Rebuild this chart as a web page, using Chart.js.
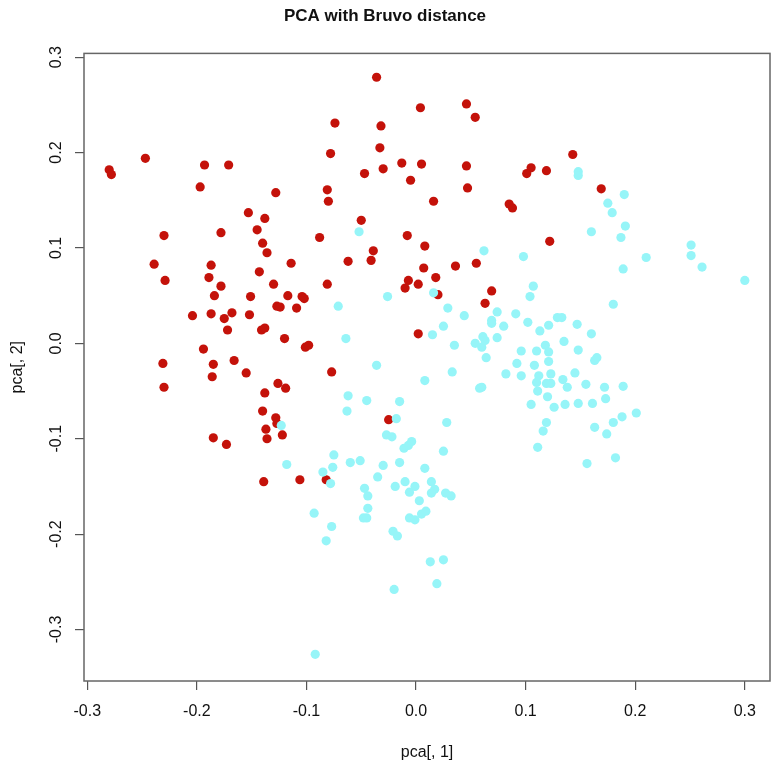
<!DOCTYPE html>
<html lang="en">

<head>
    <meta charset="UTF-8">
    <title>PCA with Bruvo distance</title>
    <script src="https://cdn.jsdelivr.net/npm/chart.js"></script>
    <style>
        body { margin: 0; background: #fff; }
    </style>
</head>

<body>
    <canvas id="pcaChart" width="784" height="770"></canvas>

    <script>
        // Population 1 (red) - pca[,1] and pca[,2]
        const redX = [-0.280, -0.278, -0.247, -0.193, -0.171, -0.197, -0.128, -0.153, -0.138, -0.145,
            -0.230, -0.178, -0.140, -0.136, -0.239, -0.187, -0.114, -0.143, -0.229, -0.189,
            -0.178, -0.130, -0.184, -0.151, -0.117, -0.104, -0.102, -0.127, -0.124, -0.109,
            -0.204, -0.187, -0.175, -0.168, -0.152, -0.172, -0.141, -0.138, -0.120, -0.101,
            -0.098, -0.194, -0.231, -0.185, -0.166, -0.186, -0.155, -0.230, -0.138, -0.126,
            -0.119, -0.140, -0.128, -0.127, -0.137, -0.136, -0.122, -0.185, -0.173, -0.139,
            -0.106, -0.036, 0.004, 0.046, 0.054, -0.074, -0.032, -0.033, -0.078, -0.047,
            -0.030, -0.013, 0.005, -0.005, 0.046, 0.047, 0.105, 0.101, -0.081, -0.080,
            0.016, 0.085, 0.088, -0.050, -0.088, -0.008, 0.008, -0.039, -0.062, -0.041,
            0.007, 0.036, 0.055, 0.018, -0.007, 0.002, -0.010, -0.081, 0.069, 0.063,
            0.020, 0.002, 0.143, 0.119, 0.169, 0.122, -0.077, -0.025, -0.082];
        const redY = [0.182, 0.177, 0.194, 0.187, 0.187, 0.164, 0.158, 0.137, 0.131, 0.119,
            0.113, 0.116, 0.105, 0.095, 0.083, 0.082, 0.084, 0.075, 0.066, 0.069,
            0.060, 0.062, 0.050, 0.049, 0.050, 0.049, 0.047, 0.039, 0.038, 0.037,
            0.029, 0.031, 0.026, 0.032, 0.030, 0.014, 0.014, 0.016, 0.005, -0.004,
            -0.002, -0.006, -0.021, -0.022, -0.018, -0.035, -0.031, -0.046, -0.052, -0.042,
            -0.047, -0.071, -0.078, -0.084, -0.090, -0.100, -0.096, -0.099, -0.106, -0.145,
            -0.143, 0.279, 0.247, 0.251, 0.237, 0.231, 0.228, 0.205, 0.199, 0.178,
            0.183, 0.189, 0.188, 0.171, 0.186, 0.163, 0.184, 0.178, 0.161, 0.149,
            0.149, 0.146, 0.142, 0.129, 0.111, 0.113, 0.102, 0.097, 0.086, 0.087,
            0.079, 0.081, 0.084, 0.069, 0.066, 0.062, 0.058, 0.062, 0.055, 0.042,
            0.051, 0.010, 0.198, 0.181, 0.162, 0.107, -0.030, -0.080, -0.143];

        // Population 2 (cyan)
        const cyanX = [-0.123, -0.118, -0.093, -0.052, -0.026, -0.071, -0.064, 0.062, 0.098, 0.107,
            0.104, 0.029, 0.044, 0.074, 0.091, 0.069, 0.069, 0.080, 0.025, 0.015,
            0.102, 0.035, 0.061, 0.054, 0.060, 0.063, 0.074, 0.016, 0.148, 0.148,
            0.190, 0.175, 0.179, 0.191, 0.187, 0.160, 0.251, 0.251, 0.261, 0.210,
            0.189, 0.300, 0.180, 0.129, 0.133, 0.121, 0.113, 0.147, 0.160, 0.135,
            0.118, 0.148, 0.110, 0.121, 0.165, 0.163, 0.121, 0.108, 0.145, 0.112,
            0.123, 0.134, 0.119, 0.123, 0.110, 0.138, 0.155, 0.172, 0.189, 0.111,
            0.120, 0.173, 0.126, 0.136, 0.148, 0.161, 0.201, 0.188, 0.180, 0.174,
            0.163, 0.119, 0.116, 0.111, 0.182, 0.156, 0.064, 0.096, 0.092, 0.033,
            0.082, 0.096, 0.058, 0.060, 0.105, 0.028, -0.018, -0.078, -0.076, -0.036,
            -0.062, -0.063, -0.045, -0.015, 0.008, -0.027, -0.022, -0.011, -0.007, -0.004,
            0.025, -0.075, -0.060, -0.051, -0.030, -0.015, 0.008, -0.085, -0.035, -0.047,
            -0.044, -0.019, -0.010, -0.001, -0.006, 0.014, 0.017, 0.014, 0.027, 0.032,
            0.003, -0.044, -0.048, -0.045, -0.006, -0.001, 0.005, 0.009, -0.077, -0.082,
            -0.021, -0.017, 0.013, 0.025, 0.019, -0.020, -0.092];
        const cyanY = [-0.086, -0.127, -0.178, 0.117, 0.049, 0.039, 0.005, 0.097, 0.091, 0.060,
            0.049, 0.037, 0.029, 0.033, 0.031, 0.024, 0.021, 0.018, 0.018, 0.009,
            0.022, -0.002, 0.007, 0.000, -0.004, 0.003, 0.006, 0.053, 0.180, 0.176,
            0.156, 0.147, 0.137, 0.123, 0.111, 0.117, 0.103, 0.092, 0.080, 0.090,
            0.078, 0.066, 0.041, 0.027, 0.027, 0.019, 0.013, 0.020, 0.010, 0.002,
            -0.002, -0.007, -0.008, -0.009, -0.015, -0.018, -0.019, -0.023, -0.031, -0.034,
            -0.032, -0.038, -0.042, -0.042, -0.041, -0.046, -0.043, -0.046, -0.045, -0.050,
            -0.056, -0.058, -0.067, -0.064, -0.063, -0.063, -0.073, -0.077, -0.083, -0.095,
            -0.088, -0.083, -0.092, -0.109, -0.120, -0.126, -0.015, -0.008, -0.021, -0.030,
            -0.032, -0.034, -0.047, -0.046, -0.064, -0.083, -0.079, -0.147, -0.130, -0.023,
            -0.055, -0.071, -0.060, -0.061, -0.039, -0.096, -0.098, -0.110, -0.107, -0.103,
            -0.113, -0.117, -0.125, -0.123, -0.128, -0.125, -0.131, -0.135, -0.140, -0.152,
            -0.160, -0.150, -0.145, -0.150, -0.156, -0.145, -0.153, -0.157, -0.157, -0.160,
            -0.165, -0.173, -0.183, -0.183, -0.183, -0.185, -0.179, -0.176, -0.192, -0.207,
            -0.197, -0.202, -0.229, -0.227, -0.252, -0.258, -0.326];

        const xTicks = [-0.3, -0.2, -0.1, 0.0, 0.1, 0.2, 0.3];
        const yTicks = [-0.3, -0.2, -0.1, 0.0, 0.1, 0.2, 0.3];

        const toPoints = (xs, ys) => xs.map((x, i) => ({ x: x, y: ys[i] }));

        const fontFamily = '"Liberation Sans", Arial, Helvetica, sans-serif';

        // box around the plot region, like R's box()
        const plotBox = {
            id: 'plotBox',
            afterDraw(chart) {
                const a = chart.chartArea;
                const ctx = chart.ctx;
                ctx.save();
                ctx.strokeStyle = '#666';
                ctx.lineWidth = 1.5;
                ctx.strokeRect(a.left, a.top, a.right - a.left, a.bottom - a.top);
                ctx.restore();
            }
        };

        const ctx = document.getElementById('pcaChart').getContext('2d');
        const chart = new Chart(ctx, {
            type: 'scatter',
            data: {
                datasets: [{
                    label: 'pop2',
                    data: toPoints(cyanX, cyanY),
                    backgroundColor: '#96F5F8',
                    borderWidth: 0,
                    pointRadius: 4.6
                }, {
                    label: 'pop1',
                    data: toPoints(redX, redY),
                    backgroundColor: '#C4120A',
                    borderWidth: 0,
                    pointRadius: 4.6
                }]
            },
            options: {
                responsive: false,
                animation: false,
                events: [],
                layout: { padding: { left: 0, right: 14, top: 0, bottom: 0 } },
                plugins: {
                    legend: { display: false },
                    tooltip: { enabled: false },
                    title: {
                        display: true,
                        text: 'PCA with Bruvo distance',
                        color: '#111',
                        font: { family: fontFamily, size: 17, weight: 'bold' },
                        padding: { top: 6, bottom: 27 }
                    }
                },
                scales: {
                    x: {
                        type: 'linear',
                        min: -0.303,
                        max: 0.323,
                        afterBuildTicks: s => { s.ticks = xTicks.map(v => ({ value: v })); },
                        afterFit: s => { s.height = 89; },
                        border: { display: false },
                        grid: { drawOnChartArea: false, drawTicks: true, tickLength: 9, color: '#555', lineWidth: 1.2 },
                        ticks: {
                            color: '#111',
                            padding: 12,
                            maxRotation: 0,
                            font: { family: fontFamily, size: 16 },
                            callback: v => v.toFixed(1)
                        },
                        title: {
                            display: true,
                            text: 'pca[, 1]',
                            color: '#111',
                            font: { family: fontFamily, size: 16 },
                            padding: { top: 0, bottom: 8 }
                        }
                    },
                    y: {
                        type: 'linear',
                        min: -0.354,
                        max: 0.304,
                        afterBuildTicks: s => { s.ticks = yTicks.map(v => ({ value: v })); },
                        afterFit: s => { s.width = 84; },
                        border: { display: false },
                        grid: { drawOnChartArea: false, drawTicks: true, tickLength: 9, color: '#555', lineWidth: 1.2 },
                        ticks: {
                            color: '#111',
                            padding: 5,
                            minRotation: 90,
                            maxRotation: 90,
                            crossAlign: 'center',
                            font: { family: fontFamily, size: 16 },
                            callback: v => v.toFixed(1)
                        },
                        title: {
                            display: true,
                            text: 'pca[, 2]',
                            color: '#111',
                            font: { family: fontFamily, size: 16 },
                            padding: { top: 8, bottom: 0 }
                        }
                    }
                }
            },
            plugins: [plotBox]
        });
    </script>
</body>

</html>
